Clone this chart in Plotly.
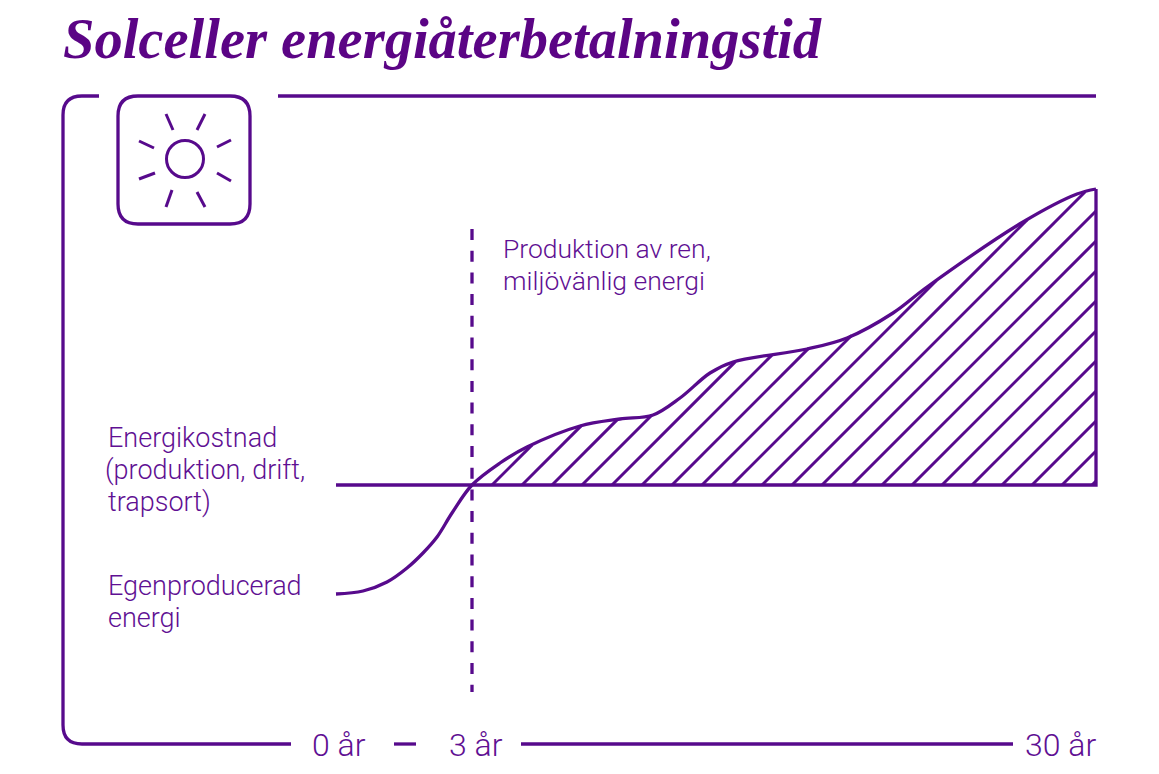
import numpy as np
import plotly.graph_objects as go

# Position along the time axis (chart units) and energy relative to the cost line
curve_pos = [336,363,387,407,423,437,452,472,500,527,580,620,653,680,710,733,807,847,893,927,1023,1077,1096]
curve_energy = [-109,-106,-97,-83,-68,-52,-28,0,22,38,59,66,70,87,112,123,136,147,172,198,263,291,296]
hatch_starts = [492,522,552,582,612,642,672,702,732,762,792,822,852,882,912,942,972,1002,1032,1062,1092]

tick_labels = ["0 år", "3 år", "30 år"]
tick_pos = [338.5, 476, 1060]
title_text = "Solceller energiåterbetalningstid"
left_labels = [("Energikostnad",438),("(produktion, drift,",470),("trapsort)",502),("Egenproducerad",586),("energi",618)]
prod_labels = [("Produktion av ren,",248),("miljövänlig energi",280)]

VIOLET = "#570a8c"
TEXTC = "#5f1093"
BASE = 485
LABEL_FONT = "Roboto"

def Y(p):
    return BASE - p

fig = go.Figure()

# hatching: 45 degree lines from the base line up to the curve
dense_x = np.linspace(472, 1096, 2500)
dense_y = np.interp(dense_x, curve_pos, curve_energy)
hx, hy = [], []
for s in hatch_starts:
    rise = dense_x - s
    mask = (dense_x > s) & (rise >= dense_y)
    xe = dense_x[mask][0] if mask.any() else 1096
    hx += [s, float(xe), None]
    hy += [0, float(xe - s), None]
fig.add_trace(go.Scatter(x=hx, y=hy, mode="lines", line=dict(color=VIOLET, width=3), hoverinfo="skip"))

# cost line and right edge
fig.add_trace(go.Scatter(x=[336, 1096, 1096], y=[0, 0, curve_energy[-1]], mode="lines",
                         line=dict(color=VIOLET, width=3.3), hoverinfo="skip"))
# energy curve
fig.add_trace(go.Scatter(x=curve_pos, y=curve_energy, mode="lines",
                         line=dict(color=VIOLET, width=3.3, shape="spline", smoothing=1), hoverinfo="skip"))

def line(x0, p0, x1, p1, w=3.3, dash=None):
    d = dict(type="line", x0=x0, x1=x1, y0=Y(p0), y1=Y(p1), xref="x", yref="y",
             line=dict(color=VIOLET, width=w))
    if dash:
        d["line"]["dash"] = dash
    fig.add_shape(**d)

def path(cmds, w=3.3):
    s = " ".join(f"{c} {x} {Y(p)}" if c in "ML" else
                 f"Q {x[0]} {Y(x[1])} {p[0]} {Y(p[1])}" for c, x, p in cmds)
    fig.add_shape(type="path", path=s, xref="x", yref="y", line=dict(color=VIOLET, width=w))

# frame
path([("M",99,96),("L",82,96),("Q",(63,96),(63,115)),("L",63,725),("Q",(63,744),(82,744)),("L",291,744)])
line(278, 96, 1096, 96)
line(394, 744, 416, 744)
line(521, 744, 1013, 744)
# year 3 marker
line(472, 229, 472, 692, 3.3, "11px,10.7px")

# icon
path([("M",138,96),("L",230,96),("Q",(250,96),(250,116)),("L",250,204),("Q",(250,224),(230,224)),
      ("L",138,224),("Q",(118,224),(118,204)),("L",118,116),("Q",(118,96),(138,96))])
fig.add_shape(type="circle", x0=166.5, x1=203.5, y0=Y(177.5), y1=Y(140.5), xref="x", yref="y",
              line=dict(color=VIOLET, width=3))
for r in [(166,114,173,130),(205,114,197,130),(139,141,154,148),(231,140,217,147),
          (139,179,155,173),(231,181,217,173),(172,190,166,207),(197,192,205,207)]:
    line(*r, w=3)

def txt(s, x, p, size, anchor="left"):
    fig.add_annotation(x=x, y=Y(p), text=s, showarrow=False, xref="x", yref="y", xanchor=anchor,
                       yanchor="middle", align="left",
                       font=dict(family=LABEL_FONT, size=size, color=TEXTC, weight=300))

fig.add_annotation(x=61, y=Y(39), text=title_text, showarrow=False, xref="x", yref="y", xanchor="left", yanchor="middle",
                   font=dict(family="Liberation Serif", size=56.5, color="#5b0485", weight=700, style="italic"))
for s, p in left_labels:
    txt(s, 103 if s.startswith("(") else 105.5, p, 27)
for s, p in prod_labels:
    txt(s, 501, p, 26.5)
for s, x in zip(tick_labels, tick_pos):
    txt(s, x, 745, 32, anchor="center")

fig.update_layout(width=1159, height=774, margin=dict(l=0, r=0, t=0, b=0), showlegend=False,
                  paper_bgcolor="white", plot_bgcolor="white",
                  xaxis=dict(visible=False, range=[0, 1159], fixedrange=True),
                  yaxis=dict(visible=False, range=[Y(774), Y(0)], fixedrange=True))
fig.write_html("out.html", config=dict(displayModeBar=False),
               post_script="document.body.style.margin='0';document.body.style.overflow='hidden';")
